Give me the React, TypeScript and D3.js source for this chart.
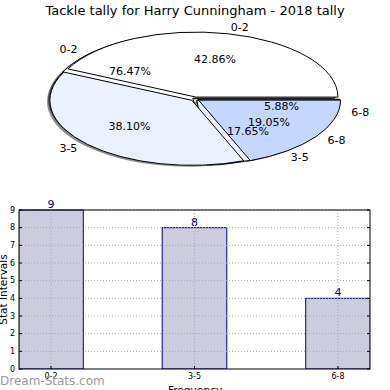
import React from 'react';
import * as d3 from 'd3';

const title = 'Tackle tally for Harry Cunningham - 2018 tally';
const categories = ['0-2', '3-5', '6-8'];
const outerValues = [9, 8, 4];
const innerValues = [13, 3, 1];
const pieColors = ['#ffffff', '#ebf1ff', '#c4d8ff'];
const yTicks = [0, 1, 2, 3, 4, 5, 6, 7, 8, 9];

const W = 390;
const H = 390;

// pie geometry (squashed ellipse)
const cx = 195, cy = 99, rx = 142, ry = 65;

const PieLayer = ({ values, explode, part }: { values: number[]; explode: number; part: string }) => {
  const total = d3.sum(values);
  const slices = d3.pie<number>().sort(null).startAngle(Math.PI / 2).endAngle(Math.PI / 2 - 2 * Math.PI)(values);
  const arc = d3.arc<d3.PieArcDatum<number>>().innerRadius(0).outerRadius(1);

  return (
    <g>
      {slices.map((s, i) => {
        const mid = (s.startAngle + s.endAngle) / 2;
        const ox = Math.sin(mid) * explode * rx;
        const oy = -Math.cos(mid) * explode * ry;
        const tf = (dx: number, dy: number) => `translate(${cx + ox + dx},${cy + oy + dy}) scale(${rx},${ry})`;
        if (part === 'shadow') {
          return <path key={i} d={arc(s) || ''} transform={tf(-0.02 * rx, 0.02 * ry)} fill="#000" opacity={0.45} />;
        }
        if (part === 'wedge') {
          return (
            <path key={i} d={arc(s) || ''} transform={tf(0, 0)} fill={pieColors[i]} stroke="#000"
              strokeWidth={1} vectorEffect="non-scaling-stroke" strokeLinejoin="round" />
          );
        }
        // texts
        const ux = Math.sin(mid), uy = -Math.cos(mid);
        const px = cx + ox + ux * 0.6 * rx, py = cy + oy + uy * 0.6 * ry;
        const lx = cx + ox + ux * 1.1 * rx, ly = cy + oy + uy * 1.1 * ry;
        return (
          <g key={i} fontFamily="DejaVu Sans" fontSize={11} fill="#000">
            <text x={px} y={py} textAnchor="middle" dominantBaseline="central">
              {(100 * s.value / total).toFixed(2)}%
            </text>
            <text x={lx} y={ly} textAnchor={ux > 0 ? 'start' : 'end'} dominantBaseline="central">
              {categories[i]}
            </text>
          </g>
        );
      })}
    </g>
  );
};

const App = () => {
  const m = { left: 19, right: 370, top: 210, bottom: 369 };
  const x = d3.scaleLinear().domain([-0.223, 2.223]).range([m.left, m.right]);
  const y = d3.scaleLinear().domain([0, 9]).range([m.bottom, m.top]);
  const barW = 0.45;

  return (
    <svg width={W} height={H} style={{ position: 'absolute', left: 0, top: 0 }} fontFamily="DejaVu Sans">
      <rect width={W} height={H} fill="#fff" />
      <text x={195} y={15} textAnchor="middle" fontSize={13}>{title}</text>

      <PieLayer values={innerValues} explode={0.02} part="shadow" />
      <PieLayer values={outerValues} explode={0.03} part="shadow" />
      <PieLayer values={innerValues} explode={0.02} part="wedge" />
      <PieLayer values={outerValues} explode={0.03} part="wedge" />
      <PieLayer values={innerValues} explode={0.02} part="text" />
      <PieLayer values={outerValues} explode={0.03} part="text" />

      <defs>
        <clipPath id="plot">
          <rect x={m.left} y={m.top - 20} width={m.right - m.left} height={m.bottom - m.top + 20} />
        </clipPath>
      </defs>
      <g clipPath="url(#plot)">
        {outerValues.map((v, i) => (
          <g key={i}>
            <rect x={x(i - barW / 2)} y={y(v)} width={x(barW) - x(0)} height={y(0) - y(v)}
              fill="#ccccdf" stroke="#000080" strokeWidth={1} />
            <text x={x(i)} y={y(v) - 2} textAnchor="middle" fontSize={11} fill="#000080">{v}</text>
          </g>
        ))}
      </g>
      {yTicks.slice(1).map(t => (
        <line key={t} x1={m.left} x2={m.right} y1={y(t)} y2={y(t)} stroke="#aaa" strokeDasharray="1,2" />
      ))}
      {categories.map((c, i) => (
        <line key={c} x1={x(i)} x2={x(i)} y1={m.top} y2={m.bottom} stroke="#aaa" strokeDasharray="1,2" />
      ))}
      <rect x={m.left} y={m.top} width={m.right - m.left} height={m.bottom - m.top} fill="none" stroke="#000" />
      {yTicks.map(t => (
        <g key={t}>
          <line x1={m.left} x2={m.left + 3} y1={y(t)} y2={y(t)} stroke="#000" />
          <line x1={m.right - 3} x2={m.right} y1={y(t)} y2={y(t)} stroke="#000" />
          <text x={m.left - 4} y={y(t)} textAnchor="end" dominantBaseline="central" fontSize={8}>{t}</text>
        </g>
      ))}
      {categories.map((c, i) => (
        <g key={c}>
          <line x1={x(i)} x2={x(i)} y1={m.bottom} y2={m.bottom - 3} stroke="#000" />
          <text x={x(i)} y={m.bottom + 10} textAnchor="middle" fontSize={8}>{c}</text>
        </g>
      ))}
      <text transform={`translate(7,${(m.top + m.bottom) / 2}) rotate(-90)`} textAnchor="middle" fontSize={10.5}>Stat Intervals</text>
      <text x={195} y={394} textAnchor="middle" fontSize={10.5}>Frequency</text>
      <text x={0} y={385} fontSize={12} fill="#999">Dream-Stats.com</text>
    </svg>
  );
};

export default App;
